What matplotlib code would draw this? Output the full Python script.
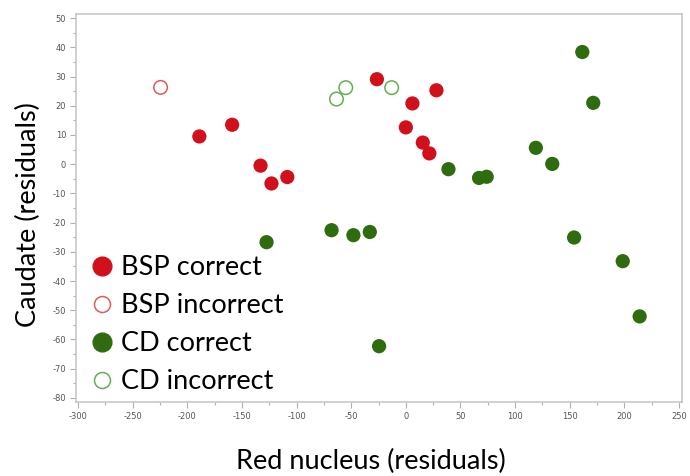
import matplotlib
matplotlib.use("Agg")
import matplotlib.pyplot as plt
from matplotlib.lines import Line2D

# data
bsp_ok_x = [-189, -159, -133, -123, -108.5, -26.5, 28, 6, 0, 15.5, 21.5]
bsp_ok_y = [9.5, 13.5, -0.5, -6.6, -4.4, 29.1, 25.3, 20.8, 12.6, 7.4, 3.7]
bsp_bad_x = [-224.5]
bsp_bad_y = [26.3]
cd_ok_x = [161.5, 171.5, 119, 134, 39, 67, 74, -127.5, -68, -48, -33, -24.5, 154, 198.5, 214]
cd_ok_y = [38.4, 21, 5.6, 0.1, -1.7, -4.7, -4.3, -26.7, -22.6, -24.3, -23.2, -62.3, -25.1, -33.2, -52.1]
cd_bad_x = [-63.5, -55, -13]
cd_bad_y = [22.3, 26.2, 26.2]
legend_labels = ["BSP correct", "BSP incorrect", "CD correct", "CD incorrect"]

red = "#d0111b"
red_light = "#e05a5a"
green = "#2f6c10"
green_light = "#62b052"
label_font = ["Lato", "DejaVu Sans"]

plt.rcParams["axes.unicode_minus"] = False

fig = plt.figure(figsize=(6.9, 4.76), dpi=100)
ax = fig.add_axes([0.110, 0.1555, 0.878, 0.815])

ax.scatter(bsp_ok_x, bsp_ok_y, s=105, color=red, edgecolors="none", zorder=3)
ax.scatter(bsp_bad_x, bsp_bad_y, s=95, facecolors="none", edgecolors=red_light, linewidths=1.1, zorder=3)
ax.scatter(cd_ok_x, cd_ok_y, s=105, color=green, edgecolors="none", zorder=3)
ax.scatter(cd_bad_x, cd_bad_y, s=95, facecolors="none", edgecolors=green_light, linewidths=1.1, zorder=3)

ax.set_xlim(-302, 252.5)
ax.set_ylim(-81.4, 51.4)
ax.set_xticks(range(-300, 251, 50))
ax.set_yticks(range(-80, 51, 10))
ax.set_xticks(range(-275, 251, 50), minor=True)
ax.set_yticks(range(-75, 51, 10), minor=True)
ax.tick_params(which="both", direction="out", colors="#b0b0b0", labelcolor="#555555",
               labelsize=6, width=0.8)
ax.tick_params(which="major", length=4, pad=3)
ax.tick_params(which="minor", length=2.5)
for s in ax.spines.values():
    s.set_color("#c8c8c8")
    s.set_linewidth(1.2)

ax.set_xlabel("Red nucleus (residuals)", fontsize=19.5, family=label_font, labelpad=20)
ax.set_ylabel("Caudate (residuals)", fontsize=19.5, family=label_font, labelpad=8)
ax.xaxis.label.set_x(0.487)
ax.yaxis.label.set_y(0.482)

handles = [
    Line2D([], [], ls="none", marker="o", ms=13.5, color=red, mec=red),
    Line2D([], [], ls="none", marker="o", ms=11.5, mfc="none", mec=red_light, mew=1.1),
    Line2D([], [], ls="none", marker="o", ms=13.5, color=green, mec=green),
    Line2D([], [], ls="none", marker="o", ms=11.5, mfc="none", mec=green_light, mew=1.1),
]
ax.legend(handles, legend_labels, loc="lower left", bbox_to_anchor=(0.003, -0.008),
          frameon=False, prop={"family": label_font, "size": 19.5},
          handlelength=1.0, handletextpad=0.2, labelspacing=0.48, borderaxespad=0.0)

fig.savefig("out.png", dpi=100)
